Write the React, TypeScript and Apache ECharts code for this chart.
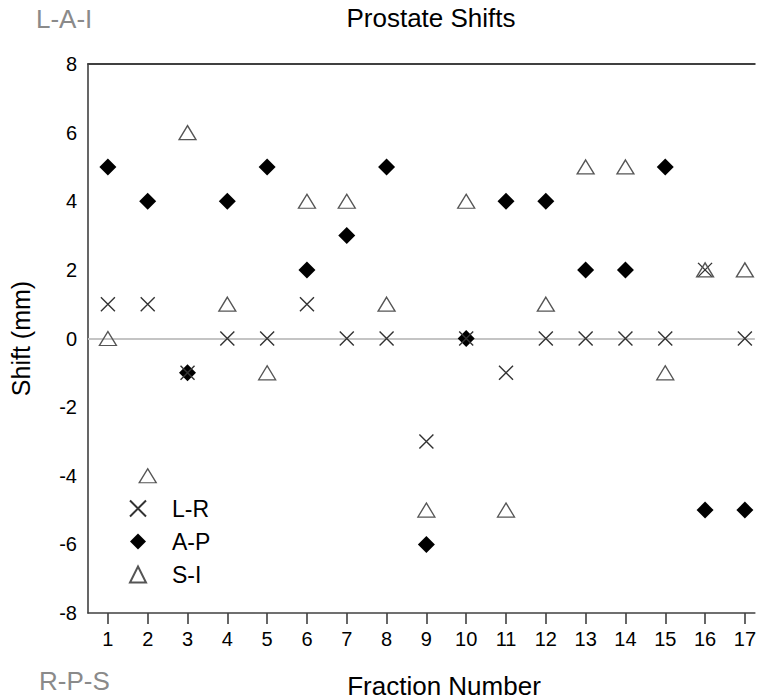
import React, { useEffect, useRef } from "react";
import * as echarts from "echarts";

const fractions = [1, 2, 3, 4, 5, 6, 7, 8, 9, 10, 11, 12, 13, 14, 15, 16, 17];
const lrShift = [1, 1, -1, 0, 0, 1, 0, 0, -3, 0, -1, 0, 0, 0, 0, 2, 0];
const apShift = [5, 4, -1, 4, 5, 2, 3, 5, -6, 0, 4, 4, 2, 2, 5, -5, -5];
const siShift = [0, -4, 6, 1, -1, 4, 4, 1, -5, 4, -5, 1, 5, 5, -1, 2, 2];
const yTicks = [-8, -6, -4, -2, 0, 2, 4, 6, 8];

const FONT = "'Liberation Sans', Arial, Helvetica, sans-serif";
const AXIS_COLOR = "#404040";
const CROSS = "path://M0,0L10,10M10,0L0,10";

export default function App() {
  const ref = useRef<HTMLDivElement>(null);
  useEffect(() => {
    if (!ref.current) return;
    const chart = echarts.init(ref.current, null, { renderer: "svg" });
    const pairs = (vals: number[]) => fractions.map((f, i) => [f, vals[i]]);
    chart.setOption({
      animation: false,
      backgroundColor: "#ffffff",
      textStyle: { fontFamily: FONT },
      grid: { left: 88, top: 64, width: 670, height: 549, containLabel: false },
      xAxis: [
        {
          type: "value",
          min: 0.5,
          max: 17.25,
          position: "bottom",
          axisLine: { show: true, onZero: false, lineStyle: { color: AXIS_COLOR, width: 1.6 } },
          axisTick: {
            show: true,
            length: 11,
            customValues: fractions,
            lineStyle: { color: AXIS_COLOR, width: 1.6 },
          },
          axisLabel: {
            show: true,
            customValues: fractions,
            fontSize: 20,
            color: "#000",
            fontFamily: FONT,
            margin: 16,
          },
          splitLine: { show: false },
        },
        {
          type: "value",
          min: 0.5,
          max: 17.25,
          position: "top",
          axisLine: { show: true, onZero: false, lineStyle: { color: AXIS_COLOR, width: 1.8 } },
          axisTick: { show: false },
          axisLabel: { show: false },
          splitLine: { show: false },
        },
      ],
      yAxis: {
        type: "value",
        min: -8,
        max: 8,
        interval: 2,
        name: "Shift (mm)",
        nameLocation: "middle",
        nameGap: 55,
        nameTextStyle: { fontSize: 25, color: "#000", fontFamily: FONT },
        axisLine: { show: true, onZero: false, lineStyle: { color: AXIS_COLOR, width: 1.6 } },
        axisTick: { show: false },
        axisLabel: {
          fontSize: 20,
          color: "#000",
          fontFamily: FONT,
          margin: 11,
          customValues: yTicks,
        },
        splitLine: { show: false },
      },
      legend: {
        orient: "vertical",
        left: 129,
        top: 497,
        padding: 0,
        itemWidth: 16,
        itemHeight: 16,
        itemGap: 10,
        data: ["L-R", "A-P", "S-I"],
        textStyle: {
          fontSize: 23,
          color: "#000",
          fontFamily: FONT,
          padding: [0, 0, 0, 21],
        },
      },
      graphic: [
        {
          type: "text",
          x: 431,
          y: 18,
          style: {
            text: "Prostate Shifts",
            fontSize: 26,
            fontFamily: FONT,
            fill: "#000",
            textAlign: "center",
            textVerticalAlign: "middle",
          },
        },
        {
          type: "text",
          x: 36,
          y: 19,
          style: {
            text: "L-A-I",
            fontSize: 26,
            fontFamily: FONT,
            fill: "#8a8a8a",
            textAlign: "left",
            textVerticalAlign: "middle",
          },
        },
        {
          type: "text",
          x: 39,
          y: 681,
          style: {
            text: "R-P-S",
            fontSize: 26,
            fontFamily: FONT,
            fill: "#8a8a8a",
            textAlign: "left",
            textVerticalAlign: "middle",
          },
        },
        {
          type: "text",
          x: 444,
          y: 686,
          style: {
            text: "Fraction Number",
            fontSize: 26,
            fontFamily: FONT,
            fill: "#000",
            textAlign: "center",
            textVerticalAlign: "middle",
          },
        },
      ],
      series: [
        {
          name: "zero",
          type: "scatter",
          data: [],
          z: 1,
          silent: true,
          markLine: {
            z: 1,
            silent: true,
            symbol: ["none", "none"],
            label: { show: false },
            lineStyle: { color: "#c4c4c4", width: 2, type: "solid" },
            data: [{ yAxis: 0 }],
          },
        },
        {
          name: "L-R",
          type: "scatter",
          z: 3,
          symbol: CROSS,
          symbolSize: 14,
          itemStyle: { color: "rgba(0,0,0,0)", borderColor: "#333", borderWidth: 1.4, opacity: 1 },
          data: pairs(lrShift),
        },
        {
          name: "A-P",
          type: "scatter",
          z: 2,
          symbol: "diamond",
          symbolSize: [17, 17],
          itemStyle: { color: "#000", opacity: 1 },
          data: pairs(apShift),
        },
        {
          name: "S-I",
          type: "scatter",
          z: 4,
          symbol: "triangle",
          symbolSize: [17, 14],
          itemStyle: { color: "rgba(0,0,0,0)", borderColor: "#555", borderWidth: 1.3, opacity: 1 },
          data: pairs(siShift),
        },
      ],
    });
    return () => chart.dispose();
  }, []);
  return (
    <div
      ref={ref}
      style={{ position: "absolute", left: 0, top: 0, width: 759, height: 700 }}
    />
  );
}
